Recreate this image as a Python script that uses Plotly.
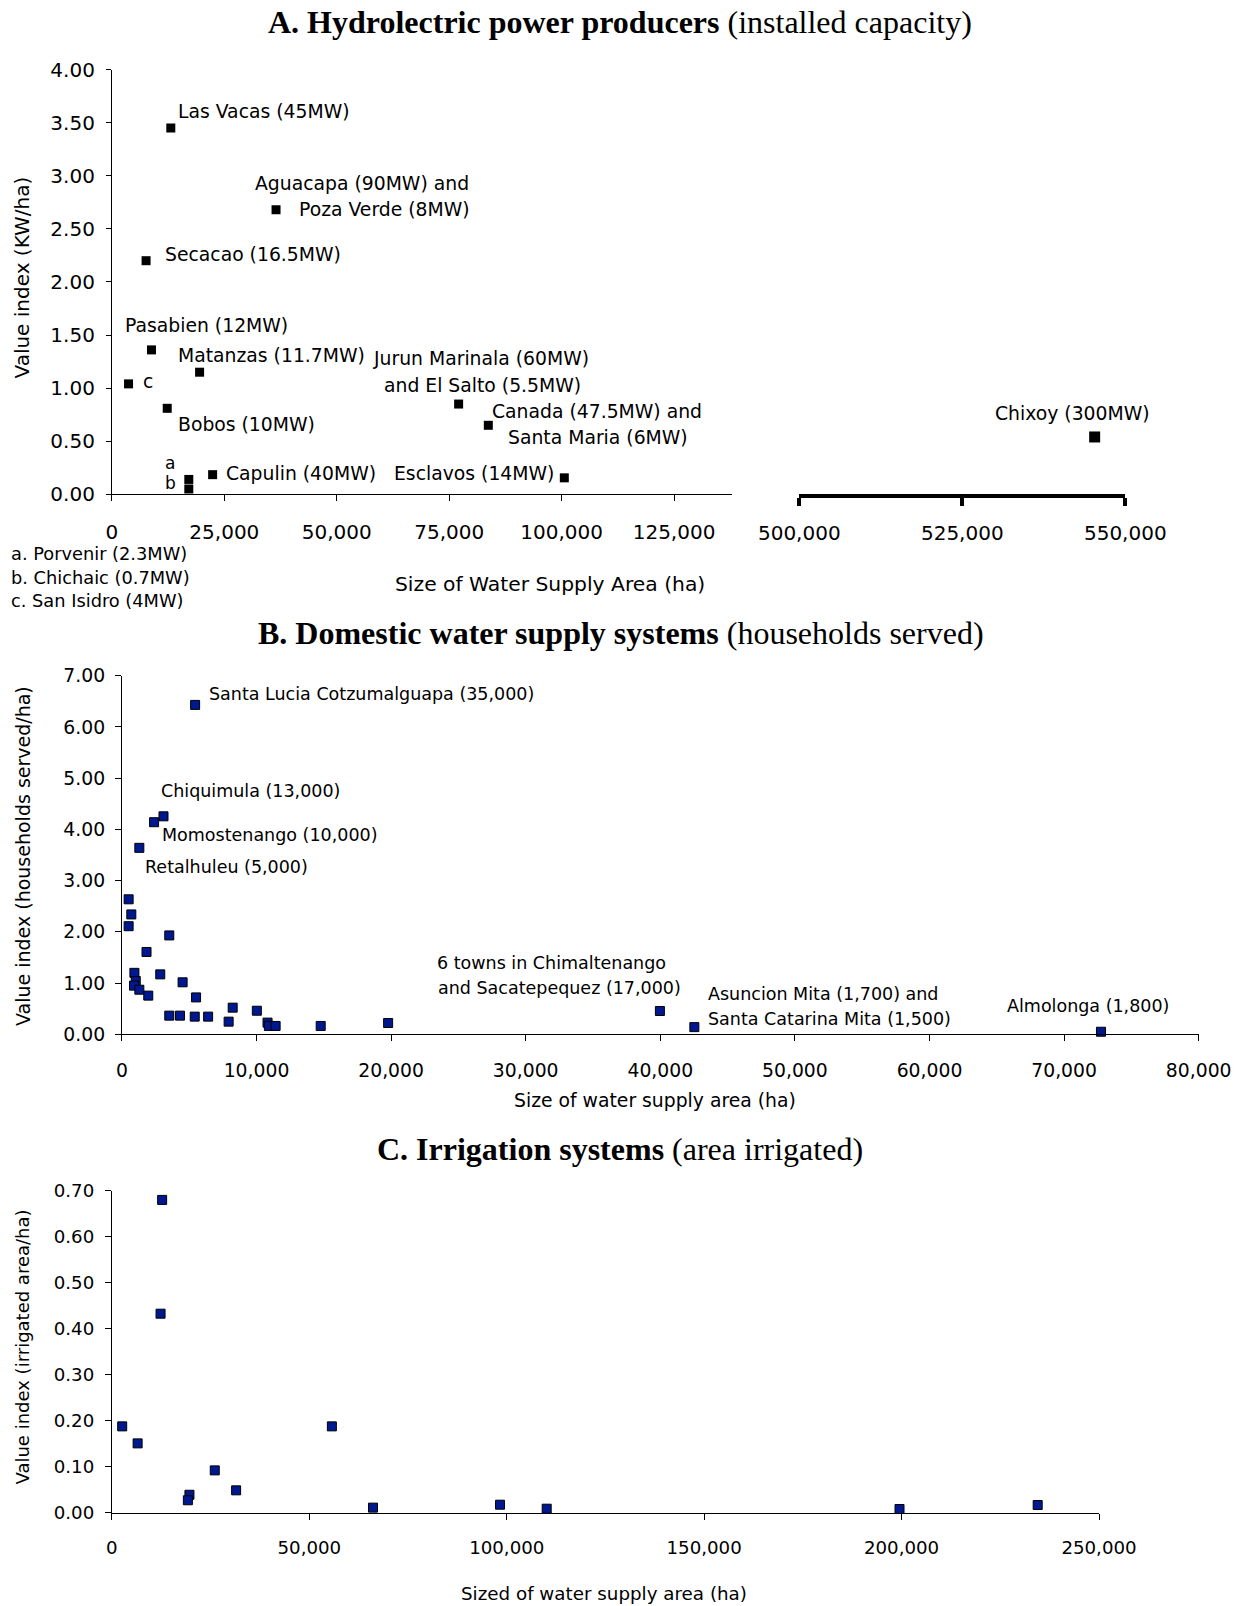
import plotly.graph_objects as go

W, H = 1242, 1606

# ---------------- data ----------------
# Panel A: hydroelectric power producers
hydro_names = ["Las Vacas", "Aguacapa + Poza Verde", "Secacao", "Pasabien", "San Isidro",
               "Matanzas", "Bobos", "Porvenir", "Chichaic", "Capulin",
               "Jurun Marinala + El Salto", "Canada + Santa Maria", "Esclavos"]
hydro_area = [13100, 36500, 7600, 8800, 3700, 19500, 12300, 17100, 17100, 22400, 77100, 83700, 100600]
hydro_value = [3.45, 2.68, 2.20, 1.36, 1.04, 1.15, 0.81, 0.14, 0.05, 0.185, 0.85, 0.65, 0.155]
chixoy_area = [545300]
chixoy_value = [0.54]

# Panel B: domestic water supply systems
domestic_area = [5440, 3090, 2390, 1295, 500, 700, 500, 3520, 1830, 930, 2850, 1030, 4510, 900,
                 1295, 1960, 5510, 8230, 10025, 3520, 4315, 5410, 6405, 7930, 10820, 10920,
                 11420, 14770, 19780, 39970, 42530, 72740]
domestic_value = [6.43, 4.255, 4.14, 3.64, 2.635, 2.34, 2.11, 1.93, 1.607, 1.20, 1.17, 1.04, 1.015, 0.95,
                  0.87, 0.755, 0.72, 0.52, 0.46, 0.364, 0.364, 0.345, 0.345, 0.247, 0.228, 0.163,
                  0.163, 0.163, 0.22, 0.455, 0.14, 0.05]

# Panel C: irrigation systems
irrig_area = [12725, 12325, 2605, 6513, 26050, 19640, 19240, 31460, 55710, 66130, 98300, 110120, 199480, 234470]
irrig_value = [0.680, 0.4326, 0.1877, 0.1507, 0.092, 0.039, 0.027, 0.0486, 0.1877, 0.011, 0.0174, 0.0087, 0.008, 0.0167]

# tick labels
hydro_ticks_left = [0, 25000, 50000, 75000, 100000, 125000]
hydro_ticks_right = [500000, 525000, 550000]

# ---------------- layout helpers ----------------
def px_x(p):
    return p / W

def px_y(p):
    return 1 - p / H

SANS = "DejaVu Sans"
SERIF = "Liberation Serif"
BLACK = "#000000"
NAVY = "#00188f"

fig = go.Figure()

# Panel A traces
fig.add_trace(go.Scatter(x=hydro_area, y=hydro_value, mode="markers", xaxis="x", yaxis="y",
                         marker=dict(symbol="square", size=9, color=BLACK), cliponaxis=False,
                         showlegend=False, hoverinfo="skip"))
fig.add_trace(go.Scatter(x=chixoy_area, y=chixoy_value, mode="markers", xaxis="x2", yaxis="y2",
                         marker=dict(symbol="square", size=11, color=BLACK), cliponaxis=False,
                         showlegend=False, hoverinfo="skip"))
# Panel B
fig.add_trace(go.Scatter(x=domestic_area, y=domestic_value, mode="markers", xaxis="x3", yaxis="y3",
                         marker=dict(symbol="square", size=9, color=NAVY, line=dict(color=BLACK, width=1)),
                         cliponaxis=False, showlegend=False, hoverinfo="skip"))
# Panel C
fig.add_trace(go.Scatter(x=irrig_area, y=irrig_value, mode="markers", xaxis="x4", yaxis="y4",
                         marker=dict(symbol="square", size=9, color=NAVY, line=dict(color=BLACK, width=1)),
                         cliponaxis=False, showlegend=False, hoverinfo="skip"))

def axis_common(size):
    return dict(showline=True, linecolor=BLACK, linewidth=1, ticks="outside", ticklen=6,
                tickwidth=1, tickcolor=BLACK, showgrid=False, zeroline=False, automargin=False,
                tickfont=dict(family=SANS, size=size, color=BLACK), fixedrange=True)

yA = [px_y(494.3), px_y(69.6)]
yB = [px_y(1034.3), px_y(675.7)]
yC = [px_y(1512.7), px_y(1190.7)]

fig.update_layout(
    template="none",
    width=W, height=H, margin=dict(l=0, r=0, t=0, b=0, autoexpand=False),
    paper_bgcolor="white", plot_bgcolor="white",
    xaxis=dict(axis_common(20), domain=[px_x(111.9), px_x(731.6)], range=[0, 137800],
               tickvals=hydro_ticks_left, tickformat=",d", anchor="y", ticklabelstandoff=14),
    yaxis=dict(axis_common(20), domain=yA, range=[0, 4], dtick=0.5, tickformat=".2f",
               anchor="x", ticklen=5, ticklabelstandoff=7),
    xaxis2=dict(axis_common(20), domain=[px_x(799.3), px_x(1125.3)], range=[500000, 550000],
                tickvals=hydro_ticks_right, tickformat=",d", anchor="y2", linewidth=4,
                tickwidth=4, ticklen=8, ticklabelstandoff=10),
    yaxis2=dict(domain=yA, range=[0, 4], visible=False, anchor="x2", fixedrange=True, automargin=False),
    xaxis3=dict(axis_common(18.8), domain=[px_x(121.9), px_x(1198.7)], range=[0, 80000],
                dtick=10000, tickformat=",d", anchor="y3", ticklabelstandoff=13),
    yaxis3=dict(axis_common(18.8), domain=yB, range=[0, 7], dtick=1, tickformat=".2f",
                anchor="x3", ticklabelstandoff=6),
    xaxis4=dict(axis_common(18.2), domain=[px_x(111.9), px_x(1099)], range=[0, 250000],
                dtick=50000, tickformat=",d", anchor="y4", ticklabelstandoff=12),
    yaxis4=dict(axis_common(18.2), domain=yC, range=[0, 0.7], dtick=0.1, tickformat=".2f",
                anchor="x4", ticklabelstandoff=7),
)

ann = []

def title(text, cx, cy, size=32):
    ann.append(dict(text=text, x=px_x(cx), y=px_y(cy), xref="paper", yref="paper",
                    xanchor="center", yanchor="middle", showarrow=False,
                    font=dict(family=SERIF, size=size, color=BLACK)))

def ptext(text, cx, cy, size, angle=0, anchor="center"):
    ann.append(dict(text=text, x=px_x(cx), y=px_y(cy), xref="paper", yref="paper",
                    xanchor=anchor, yanchor="middle", showarrow=False, textangle=angle,
                    font=dict(family=SANS, size=size, color=BLACK)))

def label(text, xref, yref, x, y, anchor, dx, dy, size):
    ann.append(dict(text=text, x=x, y=y, xref=xref, yref=yref, xanchor=anchor, yanchor="middle",
                    xshift=dx, yshift=dy, showarrow=False,
                    font=dict(family=SANS, size=size, color=BLACK)))

# titles
title("<b>A. Hydrolectric power producers</b> (installed capacity)", 619.5, 22.5)
title("<b>B. Domestic water supply systems</b> (households served)", 621, 632.8)
title("<b>C. Irrigation systems</b> (area irrigated)", 620, 1148.8)

# axis titles
ptext("Value index (KW/ha)", 21.5, 278, 20, angle=-90)
ptext("Size of Water Supply Area (ha)", 550, 584, 20.3)
ptext("Value index (households served/ha)", 23, 856, 19, angle=-90)
ptext("Size of water supply area (ha)", 655, 1100, 18.8)
ptext("Value index (irrigated area/ha)", 22, 1347.5, 18, angle=-90)
ptext("Sized of water supply area (ha)", 604, 1593, 18.3)

# footnotes
ptext("a. Porvenir (2.3MW)", 9, 553, 17.8, anchor="left")
ptext("b. Chichaic (0.7MW)", 9, 577, 17.8, anchor="left")
ptext("c. San Isidro (4MW)", 9, 601, 17.8, anchor="left")

# Panel A point labels (text, index, anchor, dx, dy, size)
SA = 18.8
a_labels = [
    ("Las Vacas (45MW)", 0, "left", 5, 16, SA),
    ("Aguacapa (90MW) and", 1, "right", 195, 26, SA),
    ("Poza Verde (8MW)", 1, "right", 196, 0, SA),
    ("Secacao (16.5MW)", 2, "left", 17, 6, SA),
    ("Pasabien (12MW)", 3, "left", -28, 24, SA),
    ("c", 4, "left", 12, 2, SA),
    ("Matanzas (11.7MW)", 5, "left", -24, 17, SA),
    ("Bobos (10MW)", 6, "left", 9, -16, SA),
    ("a", 7, "left", -26, 16, 17),
    ("b", 8, "left", -26, 6, 17),
    ("Capulin (40MW)", 9, "left", 11, 1, SA),
    ("Jurun Marinala (60MW)", 10, "center", 22, 46, SA),
    ("and El Salto (5.5MW)", 10, "center", 24, 19, SA),
    ("Canada (47.5MW) and", 11, "center", 109, 14, SA),
    ("Santa Maria (6MW)", 11, "center", 110, -12, SA),
    ("Esclavos (14MW)", 12, "right", -8, 4, SA),
]
for t, i, anc, dx, dy, sz in a_labels:
    label(t, "x", "y", hydro_area[i], hydro_value[i], anc, dx, dy, sz)
label("Chixoy (300MW)", "x2", "y2", chixoy_area[0], chixoy_value[0], "center", -22, 23, SA)

# Panel B point labels
SB = 17.5
b_labels = [
    ("Santa Lucia Cotzumalguapa (35,000)", 0, "left", 12, 11),
    ("Chiquimula (13,000)", 1, "left", -4, 25),
    ("Momostenango (10,000)", 2, "left", 6, -13),
    ("Retalhuleu (5,000)", 3, "left", 4, -19),
    ("6 towns in Chimaltenango", 29, "left", -225, 48),
    ("and Sacatepequez (17,000)", 29, "left", -224, 23),
    ("Asuncion Mita (1,700) and", 30, "left", 11.5, 33),
    ("Santa Catarina Mita (1,500)", 30, "left", 11.5, 8),
    ("Almolonga (1,800)", 31, "left", -96, 26),
]
for t, i, anc, dx, dy in b_labels:
    label(t, "x3", "y3", domestic_area[i], domestic_value[i], anc, dx, dy, SB)

fig.update_layout(annotations=ann)
fig.write_html("out.html", config={"displayModeBar": False},
               post_script="document.body.style.margin='0px';document.body.style.overflow='hidden';")
